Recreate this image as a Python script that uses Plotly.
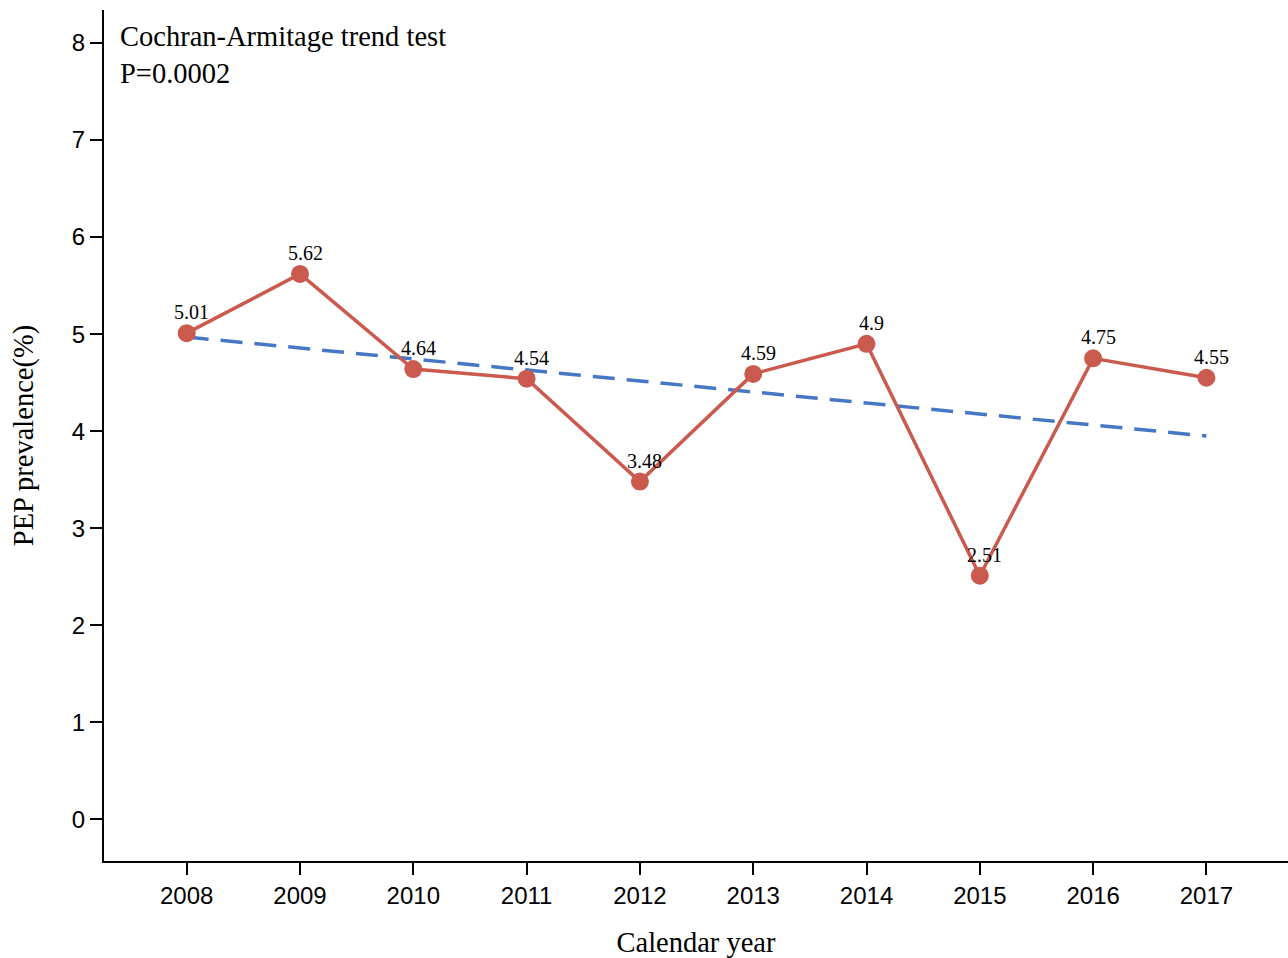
import plotly.graph_objects as go

# PEP prevalence by calendar year
years = [2008, 2009, 2010, 2011, 2012, 2013, 2014, 2015, 2016, 2017]
prevalence = [5.01, 5.62, 4.64, 4.54, 3.48, 4.59, 4.9, 2.51, 4.75, 4.55]
value_labels = ["5.01", "5.62", "4.64", "4.54", "3.48", "4.59", "4.9", "2.51", "4.75", "4.55"]

# Linear trend endpoints
trend_years = [2008, 2017]
trend_values = [4.97, 3.95]

y_ticks = [0, 1, 2, 3, 4, 5, 6, 7, 8]

RED = "#CB5A4E"
BLUE = "#4577C4"
SERIF = "Liberation Serif, Times New Roman, serif"
SANS = "Liberation Sans, Arial, sans-serif"

fig = go.Figure()

fig.add_trace(go.Scatter(
    x=trend_years, y=trend_values, mode="lines",
    line=dict(color=BLUE, width=3.5, dash="22px,12px"),
    hoverinfo="skip", showlegend=False,
))

fig.add_trace(go.Scatter(
    x=years, y=prevalence, mode="lines+markers",
    line=dict(color=RED, width=3.5),
    marker=dict(color=RED, size=18),
    showlegend=False,
))

for yr, val, lab in zip(years, prevalence, value_labels):
    fig.add_annotation(
        x=yr, y=val, text=lab, showarrow=False,
        xanchor="center", yanchor="bottom", xshift=5, yshift=8,
        font=dict(family=SERIF, size=20, color="black"),
    )

fig.add_annotation(
    xref="paper", yref="paper", x=0.012, y=0.99,
    xanchor="left", yanchor="top", align="left",
    text="Cochran-Armitage trend test<br>P=0.0002", showarrow=False,
    font=dict(family=SERIF, size=28.5, color="black"),
)

fig.update_layout(
    width=1288, height=958,
    margin=dict(l=104, r=0, t=10, b=97),
    paper_bgcolor="white", plot_bgcolor="white",
    xaxis=dict(
        range=[2007.27, 2017.72], tickmode="array", tickvals=years,
        ticktext=[str(y) for y in years],
        showline=True, linecolor="black", linewidth=2,
        ticks="outside", ticklen=12, tickwidth=2, tickcolor="black",
        showgrid=False, zeroline=False,
        tickfont=dict(family=SANS, size=24, color="black"),
        title=dict(text="Calendar year", standoff=24,
                   font=dict(family=SERIF, size=28.5, color="black")),
    ),
    yaxis=dict(
        range=[-0.43, 8.34], tickmode="array", tickvals=y_ticks,
        showline=True, linecolor="black", linewidth=2,
        ticks="outside", ticklen=12, tickwidth=2, tickcolor="black",
        showgrid=False, zeroline=False,
        tickfont=dict(family=SANS, size=24, color="black"),
        title=dict(text="PEP prevalence(%)", standoff=30,
                   font=dict(family=SERIF, size=28.5, color="black")),
    ),
)

fig.write_html("out.html")
